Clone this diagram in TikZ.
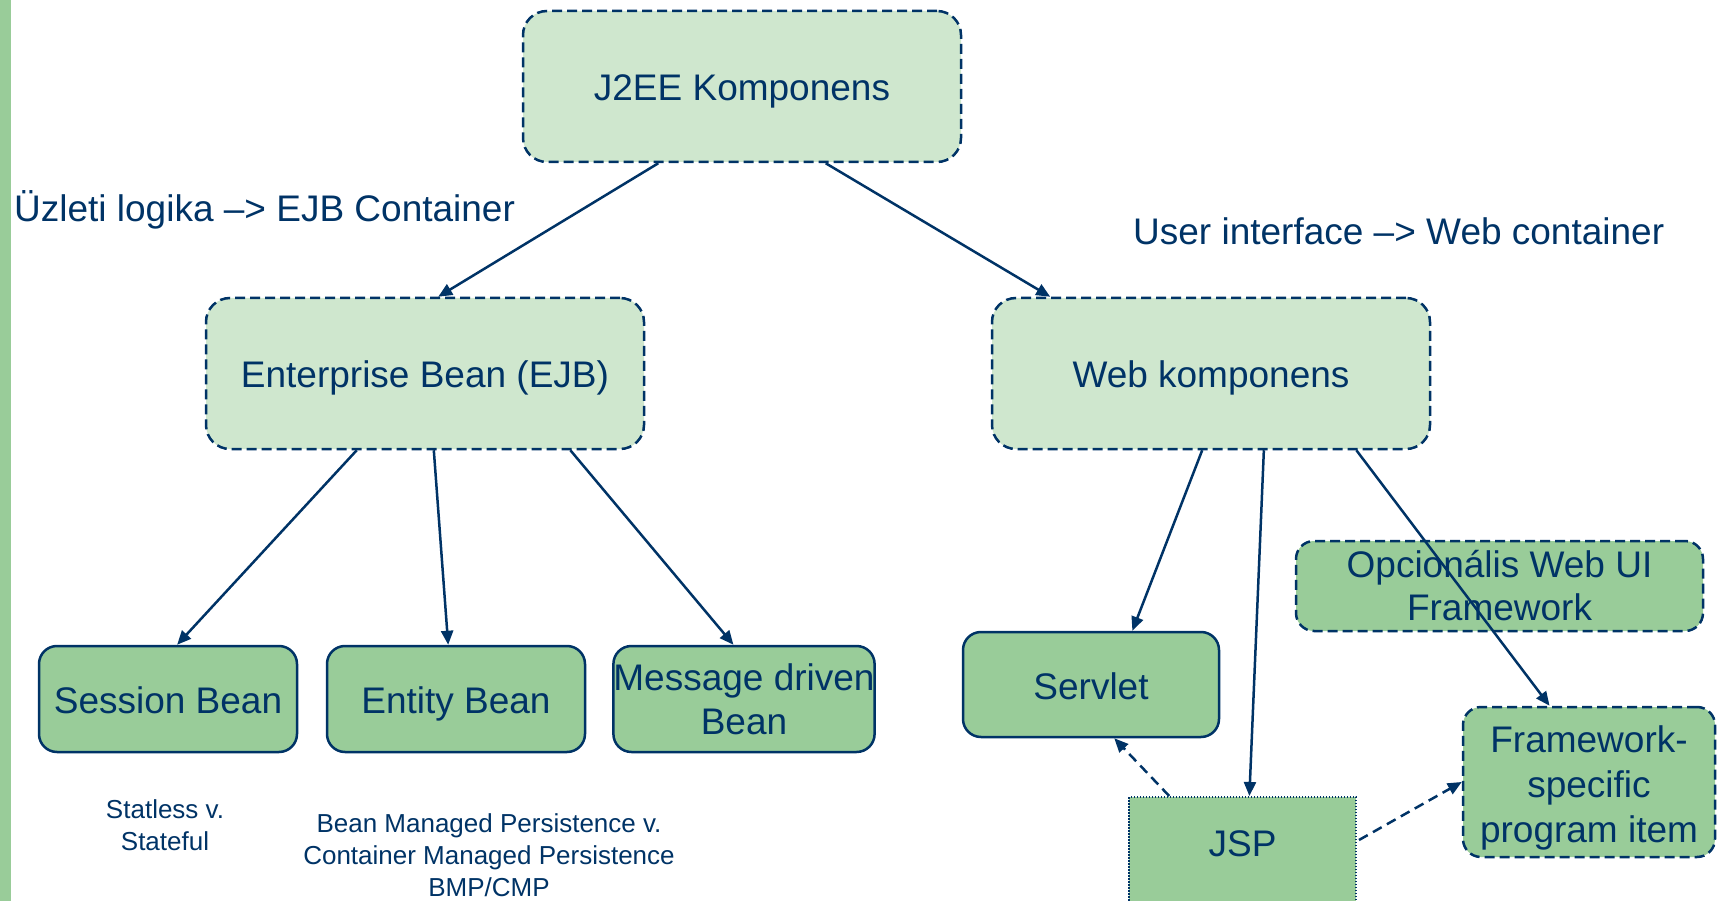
\documentclass[tikz,border=0pt]{standalone}
\usepackage{fontspec}
\setmainfont{Liberation Sans}
\usetikzlibrary{arrows.meta,calc}
\definecolor{navy}{RGB}{0,51,102}
\definecolor{lightg}{RGB}{207,231,206}
\definecolor{darkg}{RGB}{153,204,153}
\begin{document}
\begin{tikzpicture}[x=1pt,y=1pt,
  box/.style={draw=navy, line width=2.5pt, text=navy, font=\fontsize{37}{44}\selectfont, align=center, inner sep=0pt},
  oneline/.style={text height=29pt, text depth=0pt},
  topbox/.style={box, oneline, fill=lightg, rounded corners=24pt, dash pattern=on 10pt off 5pt, minimum width=438pt, minimum height=151pt},
  leaf/.style={box, fill=darkg, rounded corners=18pt, minimum width=258pt, minimum height=106pt},
  dleaf/.style={box, fill=darkg, rounded corners=18pt, dash pattern=on 10pt off 5pt},
  note/.style={text=navy, align=center, inner sep=0pt},
  arr/.style={draw=navy, line width=2.5pt, -{Triangle[length=14pt,width=12pt]}},
  darr/.style={arr, dash pattern=on 10pt off 6pt}
]
\useasboundingbox (0,0) rectangle (1717,-901);
\clip (0,0) rectangle (1717,-901);
\fill[darkg] (0,0) rectangle (11,-901);

\node[topbox] (j2ee) at (742,-86.5) {J2EE Komponens};
\node[topbox] (ejb) at (425,-373.5) {Enterprise Bean (EJB)};
\node[topbox] (web) at (1211,-373.5) {Web komponens};

\node[leaf, oneline] (session) at (168,-699) {Session Bean};
\node[leaf, oneline] (entity) at (456,-699) {Entity Bean};
\node[leaf, minimum width=256pt] (message) at (744,-699) {Message driven\\Bean};
\node[leaf, oneline, minimum width=256pt, minimum height=105pt] (servlet) at (1091,-684.5) {Servlet};
\node[dleaf, minimum width=407pt, minimum height=90pt, font=\fontsize{37}{43}\selectfont] (opc) at (1499.5,-586) {Opcionális Web UI\\Framework};
\node[dleaf, minimum width=252pt, minimum height=150pt, font=\fontsize{37}{45}\selectfont] (fs) at (1589,-782) {\rule{0pt}{38pt}Framework-\\specific\\program item};
\node[box, fill=darkg, line width=2pt, dash pattern=on 1.5pt off 1.5pt, minimum width=227pt, minimum height=113pt] (jsp) at (1242.5,-853.5) {};
\node[note, font=\fontsize{37}{44}\selectfont] (jsplbl) at (1242.5,-844) {JSP};

\node[note, anchor=west, font=\fontsize{37}{44}\selectfont] (uz) at (14,-210) {Üzleti logika –> EJB Container};
\node[note, anchor=west, font=\fontsize{37}{44}\selectfont] (ui) at (1133,-231) {User interface –> Web container};
\node[note, font=\fontsize{26}{32}\selectfont] (stat) at (165,-825.5) {Statless v.\\Stateful};
\node[note, font=\fontsize{26}{32}\selectfont] (bmp) at (489,-855) {Bean Managed Persistence v.\\Container Managed Persistence\\BMP/CMP};

\draw[arr] ($(j2ee.south west)!0.31!(j2ee.south east)$) -- ($(ejb.north west)!0.53!(ejb.north east)$);
\draw[arr] ($(j2ee.south west)!0.69!(j2ee.south east)$) -- ($(web.north west)!0.135!(web.north east)$);
\draw[arr] ($(ejb.south west)!0.345!(ejb.south east)$) -- ($(session.north west)!0.535!(session.north east)$);
\draw[arr] ($(ejb.south west)!0.52!(ejb.south east)$) -- ($(entity.north west)!0.47!(entity.north east)$);
\draw[arr] ($(ejb.south west)!0.83!(ejb.south east)$) -- ($(message.north west)!0.46!(message.north east)$);
\draw[arr] ($(web.south west)!0.48!(web.south east)$) -- ($(servlet.north west)!0.66!(servlet.north east)$);
\draw[arr] ($(web.south west)!0.62!(web.south east)$) -- ($(jsp.north west)!0.53!(jsp.north east)$);
\draw[arr] ($(web.south west)!0.83!(web.south east)$) -- ($(fs.north west)!0.345!(fs.north east)$);
\draw[darr] ($(jsp.north west)!0.18!(jsp.north east)$) -- ($(servlet.south west)!0.59!(servlet.south east)$);
\draw[darr] ($(jsp.north east)+(2,-44)$) -- (fs.west);
\end{tikzpicture}
\end{document}
